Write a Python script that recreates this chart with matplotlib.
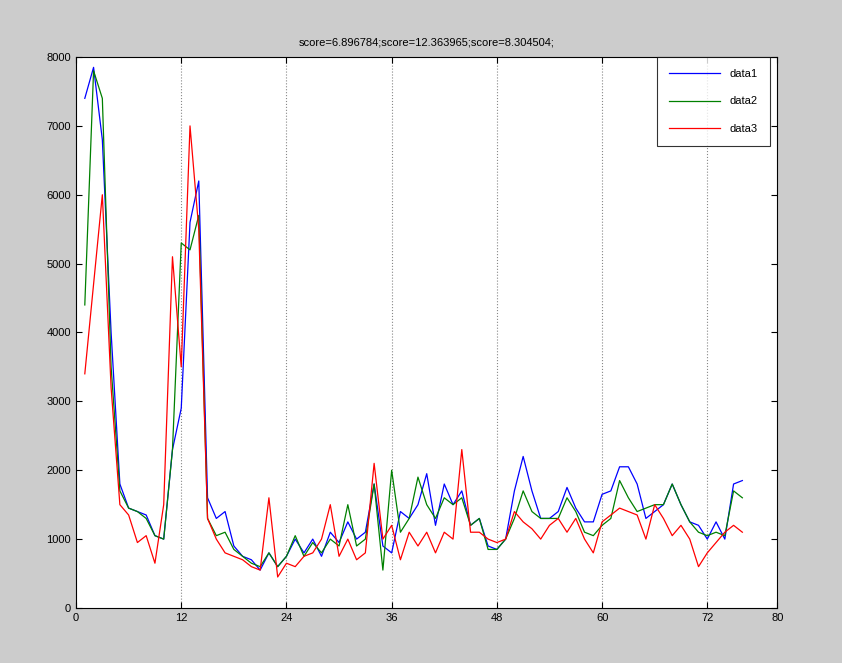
import matplotlib.pyplot as plt
import numpy as np

x = np.arange(1, 77)
data1 = [7400, 7850, 6800, 4000, 1800, 1450, 1400, 1350, 1050, 1000,
         2300, 2900, 5600, 6200, 1600, 1300, 1400, 900, 750, 700,
         550, 800, 600, 750, 1000, 800, 1000, 750, 1100, 950,
         1250, 1000, 1100, 1800, 900, 800, 1400, 1300, 1500, 1950,
         1200, 1800, 1500, 1700, 1200, 1300, 900, 850, 1000, 1700,
         2200, 1700, 1300, 1300, 1400, 1750, 1450, 1250, 1250, 1650,
         1700, 2050, 2050, 1800, 1300, 1400, 1500, 1800, 1500, 1250,
         1200, 1000, 1250, 1000, 1800, 1850]
data2 = [4400, 7800, 7400, 3500, 1700, 1450, 1400, 1300, 1050, 1000,
         2300, 5300, 5200, 5700, 1300, 1050, 1100, 850, 750, 650,
         600, 800, 600, 750, 1050, 750, 950, 800, 1000, 900,
         1500, 900, 1000, 1800, 550, 2000, 1100, 1300, 1900, 1500,
         1300, 1600, 1500, 1600, 1200, 1300, 850, 850, 1000, 1300,
         1700, 1400, 1300, 1300, 1300, 1600, 1400, 1100, 1050, 1200,
         1300, 1850, 1600, 1400, 1450, 1500, 1500, 1800, 1500, 1250,
         1100, 1050, 1100, 1050, 1700, 1600]
data3 = [3400, 4700, 6000, 3200, 1500, 1350, 950, 1050, 650, 1500,
         5100, 3500, 7000, 5500, 1300, 1000, 800, 750, 700, 600,
         550, 1600, 450, 650, 600, 750, 800, 1000, 1500, 750,
         1000, 700, 800, 2100, 1000, 1200, 700, 1100, 900, 1100,
         800, 1100, 1000, 2300, 1100, 1100, 1000, 950, 1000, 1400,
         1250, 1150, 1000, 1200, 1300, 1100, 1300, 1000, 800, 1250,
         1350, 1450, 1400, 1350, 1000, 1500, 1300, 1050, 1200, 1000,
         600, 800, 950, 1100, 1200, 1100]
labels = ['data1', 'data2', 'data3']
title = 'score=6.896784;score=12.363965;score=8.304504;'

plt.rcParams['font.family'] = ['Liberation Sans', 'DejaVu Sans']
fig = plt.figure(figsize=(8.42, 6.63), dpi=100, facecolor='#cccccc')
ax = fig.add_axes([0.0903, 0.083, 0.833, 0.831])

ax.plot(x, data1, color='#0000ff', lw=0.9, label=labels[0])
ax.plot(x, data2, color='#008000', lw=0.9, label=labels[1])
ax.plot(x, data3, color='#ff0000', lw=0.9, label=labels[2])

ax.set_xlim(0, 80)
ax.set_ylim(0, 8000)
ax.set_xticks([0, 12, 24, 36, 48, 60, 72, 80])
ax.set_yticks(np.arange(0, 8001, 1000))
ax.tick_params(direction='in', top=True, right=True, labelsize=8, length=4)
for s in ax.spines.values():
    s.set_linewidth(0.8)
for t in [12, 24, 36, 48, 60, 72]:
    ax.axvline(t, color='#888888', ls=':', lw=0.8, zorder=0)
ax.set_title(title, fontsize=8, pad=8)

leg = ax.legend(loc='upper right', bbox_to_anchor=(0.989, 1.0), borderaxespad=0,
                fontsize=8, fancybox=False, edgecolor='black', handlelength=4.6,
                labelspacing=1.55, borderpad=1.1)
leg.get_frame().set_linewidth(0.8)

fig.savefig('out.png', dpi=100, facecolor=fig.get_facecolor())
